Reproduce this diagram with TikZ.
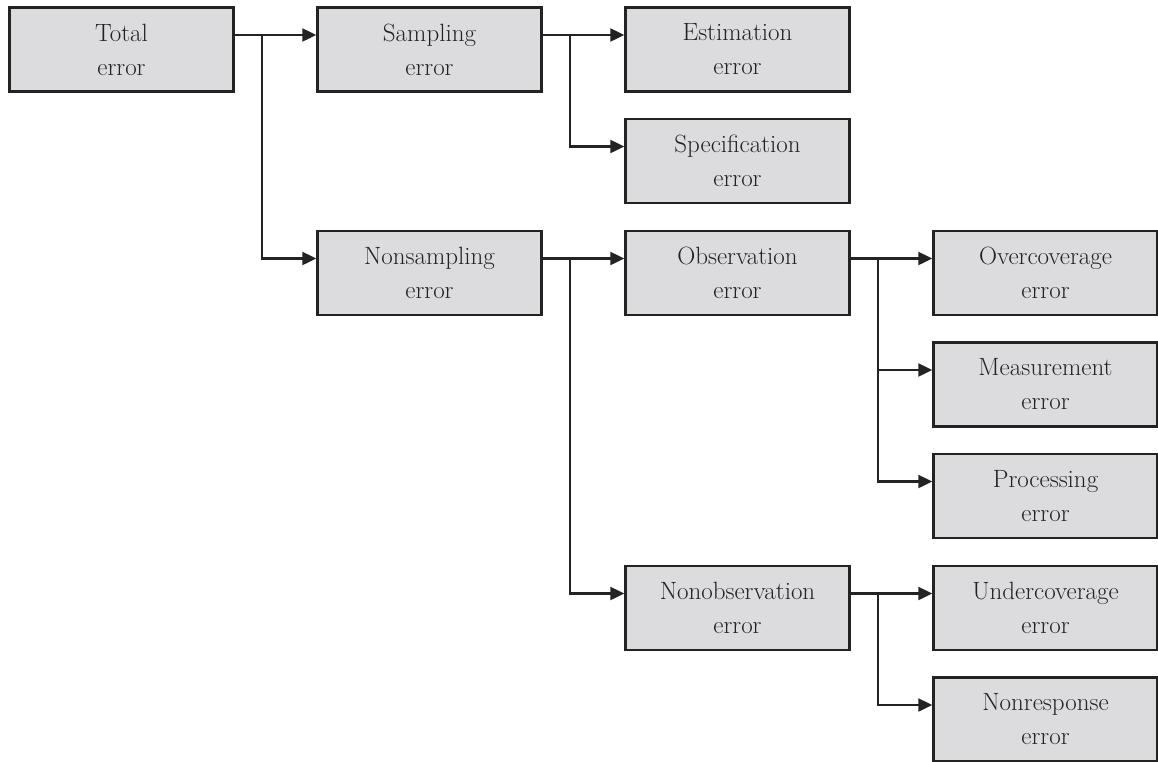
\documentclass[tikz,border=0pt]{standalone}
\usetikzlibrary{arrows.meta}
\definecolor{boxfill}{RGB}{220,220,222}
\definecolor{ink}{RGB}{35,35,35}
\definecolor{txt}{RGB}{35,35,35}
\begin{document}
\begin{tikzpicture}[x=1pt,y=-1pt,
  errbox/.style={draw=ink,line width=2.4pt,fill=boxfill,minimum width=224pt,minimum height=84pt,
    inner sep=0pt,align=center,text=txt,font=\fontsize{25}{34}\selectfont},
  arr/.style={draw=ink,line width=2.2pt,-{Triangle[length=14pt,width=13pt]}}]
\useasboundingbox (0,0) rectangle (1158,761);
\node[errbox] (total) at (121.5,49.5) {Total\\error};
\node[errbox] (samp)  at (429.5,49.5) {Sampling\\error};
\node[errbox] (est)   at (737.5,49.5) {Estimation\\error};
\node[errbox] (spec)  at (737.5,161) {Specification\\error};
\node[errbox] (nons)  at (429.5,273) {Nonsampling\\error};
\node[errbox] (obs)   at (737.5,273) {Observation\\error};
\node[errbox] (over)  at (1045.5,273) {Overcoverage\\error};
\node[errbox] (meas)  at (1045.5,384.5) {Measurement\\error};
\node[errbox] (proc)  at (1045.5,496) {Processing\\error};
\node[errbox] (nobs)  at (737.5,608) {Nonobservation\\error};
\node[errbox] (under) at (1045.5,608) {Undercoverage\\error};
\node[errbox] (nresp) at (1045.5,719.5) {Nonresponse\\error};
\tikzset{up/.style={yshift=14.5pt}, br/.style={yshift=14.5pt,xshift=27pt}}
\coordinate (bt) at ([br]total.east);
\coordinate (bs) at ([br]samp.east);
\coordinate (bn) at ([br]nons.east);
\coordinate (bo) at ([br]obs.east);
\coordinate (bb) at ([br]nobs.east);
\draw[arr] ([up]total.east) -- ([up]samp.west);
\draw[arr] (bt) |- ([up]nons.west);
\draw[arr] ([up]samp.east) -- ([up]est.west);
\draw[arr] (bs) |- ([up]spec.west);
\draw[arr] ([up]nons.east) -- ([up]obs.west);
\draw[arr] (bn) |- ([up]nobs.west);
\draw[arr] ([up]obs.east) -- ([up]over.west);
\draw[arr] (bo) |- ([up]meas.west);
\draw[arr] (bo) |- ([up]proc.west);
\draw[arr] ([up]nobs.east) -- ([up]under.west);
\draw[arr] (bb) |- ([up]nresp.west);
\end{tikzpicture}
\end{document}
